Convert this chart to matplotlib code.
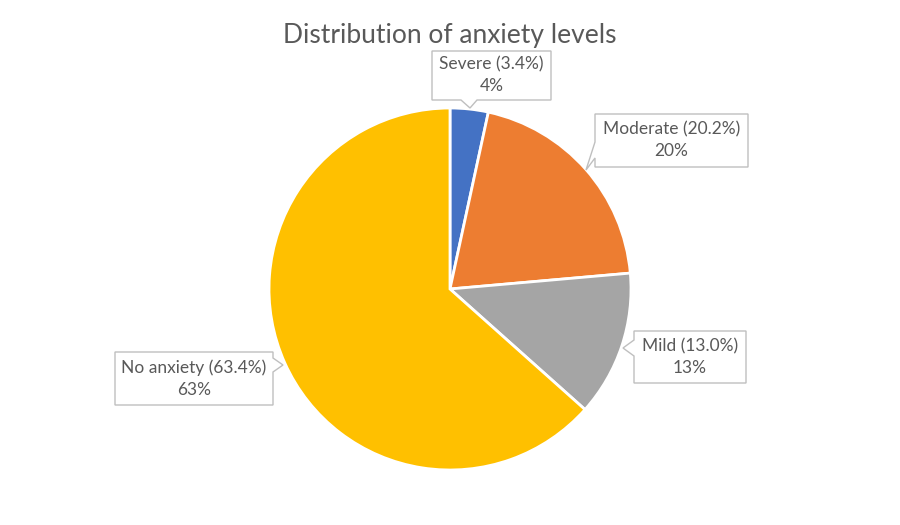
import matplotlib.pyplot as plt
from matplotlib.patches import Polygon

labels = ['Severe', 'Moderate', 'Mild', 'No anxiety']
shares = [3.4, 20.2, 13.0, 63.4]
rounded = [4, 20, 13, 63]
colors = ['#4472C4', '#ED7D31', '#A5A5A5', '#FFC000']

W, H = 900, 525
TEXT = '#595959'
EDGE = '#BFBFBF'

plt.rcParams['font.family'] = ['Lato', 'DejaVu Sans']


def fy(y):
    # pixel row (top-down) -> data y (bottom-up)
    return H - y


def callout(ax, box, side, notch, tip, text):
    x0, y0, x1, y1 = box
    a, b = notch
    if side == 'bottom':
        pts = [(x0, y0), (x1, y0), (x1, y1), (b, y1), tip, (a, y1), (x0, y1)]
    elif side == 'left':
        pts = [(x0, y0), (x1, y0), (x1, y1), (x0, y1), (x0, b), tip, (x0, a)]
    else:  # right
        pts = [(x0, y0), (x1, y0), (x1, a), tip, (x1, b), (x1, y1), (x0, y1)]
    pts = [(x, fy(y)) for x, y in pts]
    ax.add_patch(Polygon(pts, closed=True, facecolor='white', edgecolor=EDGE,
                         linewidth=1.0, zorder=3))
    ax.text((x0 + x1) / 2, fy((y0 + y1) / 2), text, ha='center', va='center',
            fontsize=12.5, color=TEXT, linespacing=1.45, zorder=4)


fig = plt.figure(figsize=(9, 5.25), dpi=100)
ax = fig.add_axes([0, 0, 1, 1])

ax.pie(shares, colors=colors, startangle=90, counterclock=False,
       center=(450, fy(289)), radius=181, frame=True,
       wedgeprops=dict(edgecolor='white', linewidth=2))
ax.set_xlim(0, W)
ax.set_ylim(0, H)
ax.set_aspect('equal')
ax.axis('off')

boxes = [
    ((432, 51, 551, 100), 'bottom', (461, 477), (470, 108)),
    ((595, 114, 748, 167), 'left', (142, 158), (586, 170)),
    ((634, 331, 746, 383), 'left', (340, 356), (623, 348)),
    ((115, 352, 273, 405), 'right', (358, 372), (283, 365)),
]
for (box, side, notch, tip), lab, s, r in zip(boxes, labels, shares, rounded):
    callout(ax, box, side, notch, tip, '%s (%.1f%%)\n%d%%' % (lab, s, r))

ax.text(450, fy(35), 'Distribution of anxiety levels', ha='center',
        va='center', fontsize=19, color=TEXT)

fig.savefig('out.png', dpi=100)
